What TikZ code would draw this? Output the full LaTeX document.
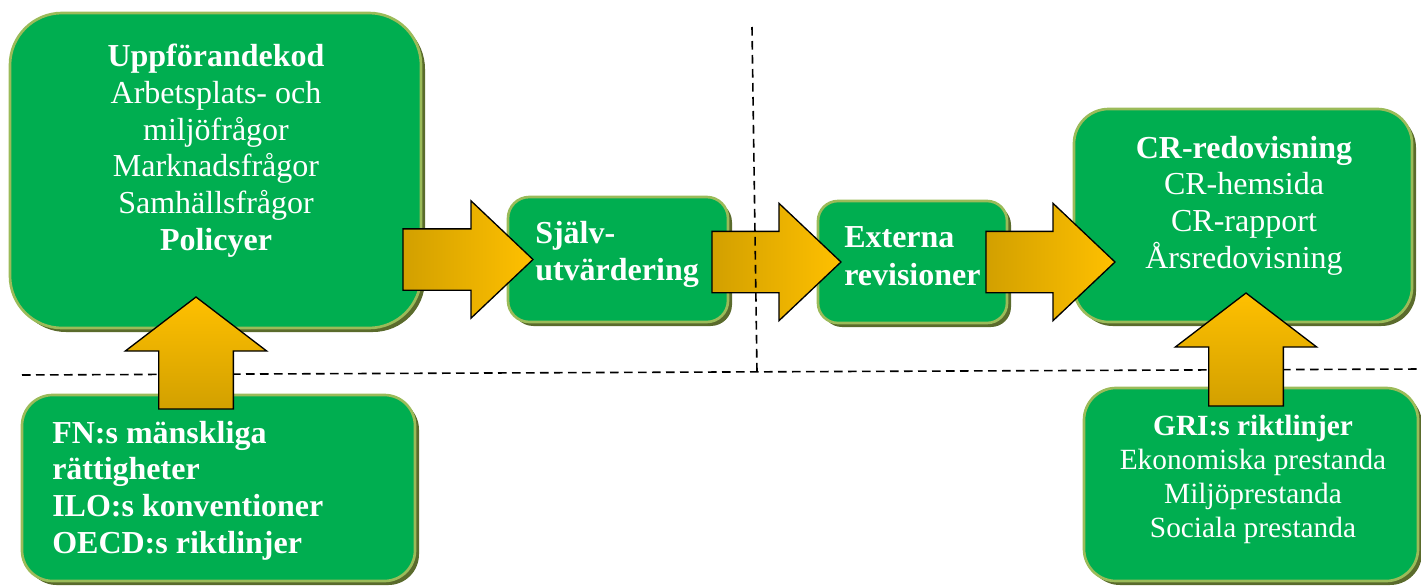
\documentclass[tikz,border=0pt]{standalone}
\usepackage{fontspec}
\setmainfont{Liberation Serif}
\usetikzlibrary{calc,shadows,fit}

\definecolor{boxgreen}{HTML}{00AE50}
\definecolor{boxrim}{HTML}{9BBB59}
\definecolor{boxshade}{HTML}{5A6B2C}
\definecolor{golddark}{HTML}{D2A000}
\definecolor{goldlight}{HTML}{FFC000}

\tikzset{
  panel/.style={fill=boxgreen, draw=boxrim, line width=2pt, inner sep=0pt, outer sep=0pt,
    drop shadow={shadow xshift=3pt, shadow yshift=-3pt, fill=boxshade, opacity=1}},
  blockarrow/.style={draw=black, line width=1pt, line join=miter},
  divider/.style={draw=black, line width=1.2pt, dash pattern=on 6.5pt off 4pt},
  txt/.style={text=white, inner sep=0pt, font=\fontsize{24pt}{27.5pt}\selectfont},
  smalltxt/.style={text=white, inner sep=0pt, font=\fontsize{22pt}{25.3pt}\selectfont},
}

% horizontal block arrow: start point, tip point
\newcommand\harrow[2]{%
  \shade[blockarrow, left color=golddark, right color=goldlight]
    let \p1=(#1), \p2=(#2) in
    (\x1,\y2+23pt) -- (\x2-46.5pt,\y2+23pt) -- (\x2-46.5pt,\y2+44pt) -- (\x2,\y2)
    -- (\x2-46.5pt,\y2-44pt) -- (\x2-46.5pt,\y2-23pt) -- (\x1,\y2-23pt) -- cycle;}

% upward block arrow: foot point, tip point
\newcommand\varrow[2]{%
  \shade[blockarrow, top color=goldlight, bottom color=golddark]
    let \p1=(#1), \p2=(#2) in
    (\x2-28pt,\y1) -- (\x2-28pt,\y2-40.5pt) -- (\x2-53pt,\y2-40.5pt) -- (\x2,\y2)
    -- (\x2+53pt,\y2-40.5pt) -- (\x2+28pt,\y2-40.5pt) -- (\x2+28pt,\y1) -- cycle;}

\begin{document}
\begin{tikzpicture}[x=0.75pt,y=-0.75pt]
\useasboundingbox (0,0) rectangle (1421,586);

% boxes
\node[panel, rounded corners=39pt, fit={(10,13) (421,328)}] (b1) {};
\node[panel, rounded corners=16pt, fit={(508,197) (728,322)}] (b2) {};
\node[panel, rounded corners=15pt, fit={(818,201) (1007,323)}] (b3) {};
\node[panel, rounded corners=26pt, fit={(1074,109) (1412,322)}] (b4) {};
\node[panel, rounded corners=23pt, fit={(22,395) (415,581)}] (b5) {};
\node[panel, rounded corners=24pt, fit={(1084,388) (1418,581)}] (b6) {};

% horizontal divider
\coordinate (hl) at (22,375);
\coordinate (hr) at (1421,369);
\draw[divider] (hl) -- (hr);

% arrows
\coordinate (a1s) at ($(b1.east)+(-18,0)$);
\coordinate (a1t) at ($(b2.west)+(25,0)$);
\coordinate (a2s) at ($(b2.east)+(-16,0)$);
\coordinate (a2t) at ($(b3.west)+(23,0)$);
\coordinate (a3s) at ($(b3.east)+(-21,0)$);
\coordinate (a3t) at ($(b4.west |- b3.east)+(41,0)$);
\coordinate (a4s) at ($(b5.north west)+(174,14)$);
\coordinate (a4t) at ($(b1.south west)+(186,-31)$);
\coordinate (a5s) at ($(b6.north west)+(162,18)$);
\coordinate (a5t) at ($(b4.south west)+(172,-29)$);
\harrow{a1s}{a1t}
\harrow{a2s}{a2t}
\harrow{a3s}{a3t}
\varrow{a4s}{a4t}
\varrow{a5s}{a5t}

% vertical divider
\coordinate (vt) at (752,27);
\coordinate (vb) at (757,372);
\draw[divider] (vt) -- (vb);

% texts (anchored at the baseline of their last line)
\node[txt, align=center, anchor=base] (t1) at (216,250)
  {\textbf{Uppförandekod}\\Arbetsplats- och\\miljöfrågor\\Marknadsfrågor\\Samhällsfrågor\\\textbf{Policyer}};
\node[txt, align=left, anchor=base west, font=\fontsize{24pt}{27.75pt}\selectfont\bfseries] (t2) at (535,280)
  {Själv-\\utvärdering};
\node[txt, align=left, anchor=base west, font=\fontsize{24pt}{28.5pt}\selectfont\bfseries] (t3) at (844,285)
  {Externa\\revisioner};
\node[txt, align=center, anchor=base] (t4) at (1244,268)
  {\textbf{CR-redovisning}\\CR-hemsida\\CR-rapport\\Årsredovisning};
\node[txt, align=left, anchor=base west, font=\fontsize{24pt}{27.5pt}\selectfont\bfseries] (t5) at (52,553)
  {FN:s mänskliga\\rättigheter\\ILO:s konventioner\\OECD:s riktlinjer};
\node[smalltxt, align=center, anchor=base] (t6) at (1253,537)
  {\textbf{GRI:s riktlinjer}\\Ekonomiska prestanda\\Miljöprestanda\\Sociala prestanda};
\end{tikzpicture}
\end{document}
